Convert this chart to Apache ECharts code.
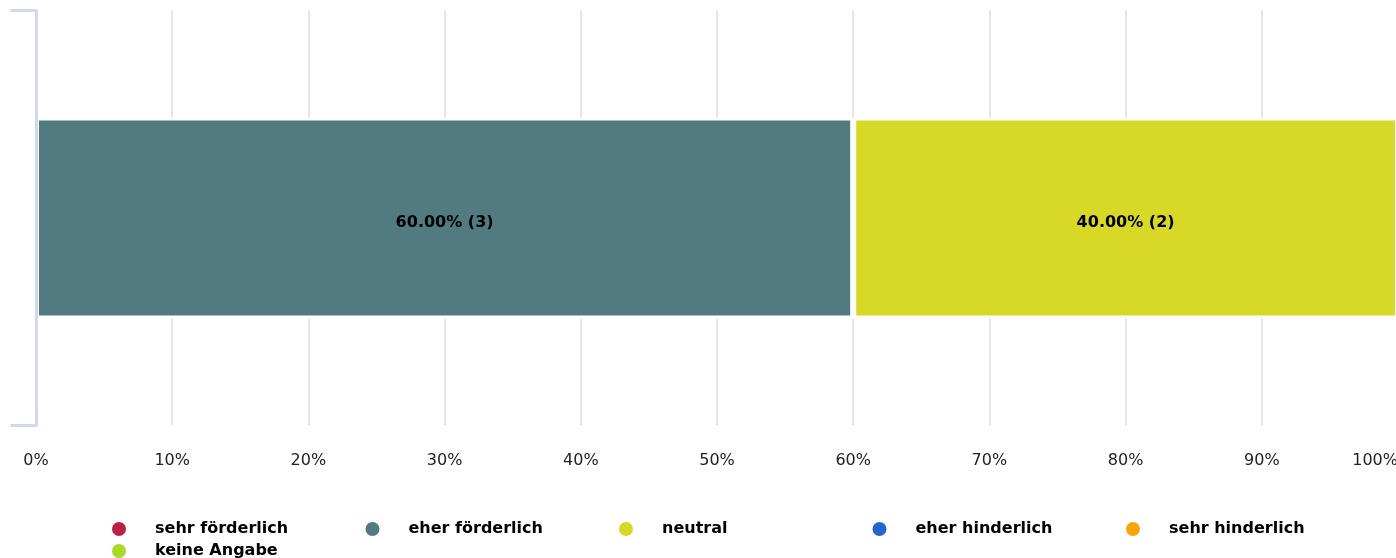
<!DOCTYPE html>
<html>
<head>
<meta charset="utf-8">
<script src="https://cdn.jsdelivr.net/npm/echarts@6/dist/echarts.min.js"></script>
<style>
    html, body { margin: 0; padding: 0; background: #fff; }
    #chart { width: 1396px; height: 558px; }
</style>
</head>
<body>
<div id="chart"></div>
<script>
    const categories = ['']
    const seriesNames = ['sehr förderlich', 'eher förderlich', 'neutral', 'eher hinderlich', 'sehr hinderlich', 'keine Angabe']
    const seriesColors = ['#bc2045', '#517b81', '#d8d927', '#2466cb', '#f9a40c', '#a8db28']
    const percentValues = [0, 60, 40, 0, 0, 0]
    const countValues = [0, 3, 2, 0, 0, 0]

    const font = 'DejaVu Sans'
    const chart = echarts.init(document.getElementById('chart'))

    const series = seriesNames.map((name, i) => ({
        name: name,
        type: 'bar',
        stack: 'total',
        barWidth: 201,
        data: categories.map(() => percentValues[i]),
        itemStyle: {
            color: seriesColors[i],
            borderColor: '#fff',
            borderWidth: 3,
        },
        label: {
            show: percentValues[i] > 0,
            position: 'inside',
            offset: [0, 5],
            fontFamily: font,
            fontSize: 16,
            fontWeight: 'bold',
            color: '#000',
            formatter: () => percentValues[i].toFixed(2) + '% (' + countValues[i] + ')',
        },
    }))

    chart.setOption({
        animation: false,
        grid: {
            left: 36,
            top: 10.5,
            width: 1362,
            bottom: 132.5,
            outerBoundsMode: 'none',
        },
        xAxis: {
            type: 'value',
            min: 0,
            max: 100,
            interval: 10,
            axisLine: { show: false },
            axisTick: { show: false },
            splitLine: {
                lineStyle: { color: '#e6e6e6', width: 2 }
            },
            axisLabel: {
                formatter: '{value}%',
                fontFamily: font,
                fontSize: 16,
                color: '#222',
                margin: 27,
                alignMaxLabel: 'right',
            },
        },
        yAxis: {
            type: 'category',
            data: categories,
            offset: 1.5,
            z: 5,
            axisLine: {
                show: true,
                lineStyle: { color: '#d0d9ec', width: 3 }
            },
            axisTick: {
                show: true,
                interval: 0,
                length: 25.5,
                lineStyle: { color: '#d0d9ec', width: 3 }
            },
            axisLabel: { show: false },
        },
        legend: {
            data: seriesNames,
            icon: 'circle',
            left: 105,
            top: 515,
            width: 1280,
            itemWidth: 16,
            itemHeight: 16,
            itemGap: 4,
            formatter: name => '{a|' + name + '}',
            textStyle: {
                rich: {
                    a: {
                        fontFamily: font,
                        fontSize: 16,
                        fontWeight: 'bold',
                        color: '#000',
                        width: 204.5,
                        lineHeight: 14,
                        padding: [0, 0, 0, 23],
                    }
                }
            },
        },
        series: series,
    })
</script>
</body>
</html>
